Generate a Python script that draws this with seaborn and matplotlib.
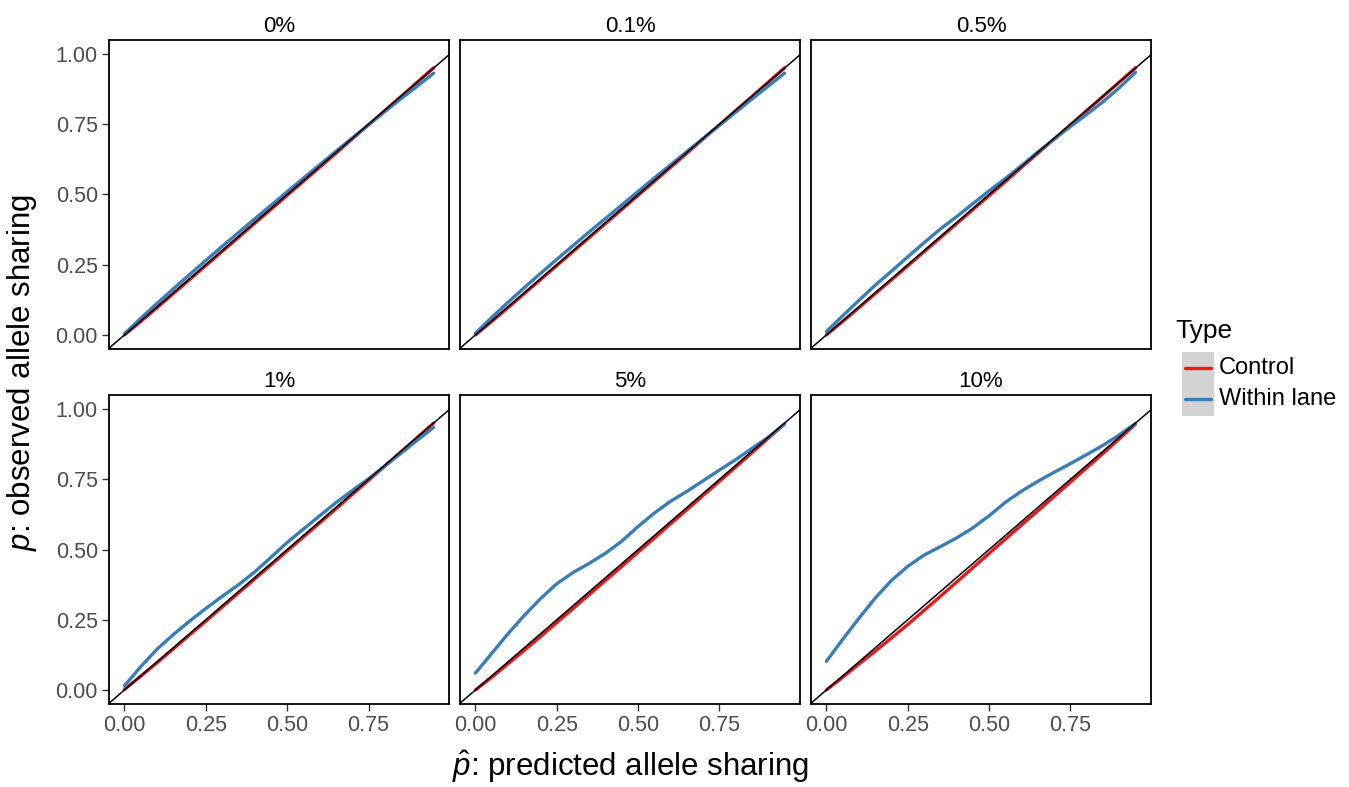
import numpy as np
import pandas as pd
import seaborn as sns
import matplotlib.pyplot as plt
from matplotlib.lines import Line2D
from matplotlib.patches import Rectangle

# predicted allele sharing (x) shared by every panel
predicted = [0.00, 0.05, 0.10, 0.15, 0.20, 0.25, 0.30, 0.35, 0.40, 0.45,
             0.50, 0.55, 0.60, 0.65, 0.70, 0.75, 0.80, 0.85, 0.90, 0.95]
panels = ['0%', '0.1%', '0.5%', '1%', '5%', '10%']
types = ['Control', 'Within lane']

control_0 = [0.000, 0.048, 0.097, 0.147, 0.197, 0.247, 0.297, 0.347, 0.397, 0.447,
             0.497, 0.547, 0.597, 0.647, 0.698, 0.748, 0.799, 0.849, 0.900, 0.951]
within_0 = [0.004, 0.059, 0.112, 0.164, 0.215, 0.265, 0.315, 0.364, 0.413, 0.461,
            0.510, 0.558, 0.606, 0.654, 0.701, 0.748, 0.795, 0.841, 0.886, 0.932]
control_01 = [0.000, 0.048, 0.097, 0.147, 0.197, 0.247, 0.297, 0.347, 0.397, 0.447,
              0.497, 0.547, 0.597, 0.647, 0.698, 0.748, 0.799, 0.849, 0.900, 0.951]
within_01 = [0.006, 0.062, 0.116, 0.168, 0.219, 0.269, 0.318, 0.367, 0.415, 0.463,
             0.511, 0.559, 0.606, 0.653, 0.700, 0.746, 0.793, 0.840, 0.886, 0.932]
control_05 = [0.000, 0.048, 0.097, 0.147, 0.196, 0.246, 0.296, 0.346, 0.396, 0.446,
              0.496, 0.546, 0.597, 0.647, 0.698, 0.748, 0.799, 0.849, 0.900, 0.951]
within_05 = [0.012, 0.068, 0.123, 0.177, 0.227, 0.278, 0.328, 0.377, 0.421, 0.467,
             0.513, 0.557, 0.603, 0.652, 0.697, 0.742, 0.785, 0.830, 0.880, 0.935]
control_1 = [0.002, 0.049, 0.097, 0.146, 0.196, 0.245, 0.295, 0.345, 0.395, 0.445,
             0.495, 0.545, 0.595, 0.645, 0.696, 0.746, 0.797, 0.848, 0.899, 0.950]
within_1 = [0.015, 0.083, 0.145, 0.197, 0.245, 0.290, 0.333, 0.374, 0.420, 0.472,
            0.525, 0.573, 0.620, 0.667, 0.710, 0.752, 0.797, 0.843, 0.889, 0.935]
control_5 = [0.000, 0.045, 0.093, 0.141, 0.190, 0.240, 0.290, 0.340, 0.390, 0.440,
             0.491, 0.541, 0.592, 0.642, 0.693, 0.743, 0.794, 0.845, 0.896, 0.947]
within_5 = [0.060, 0.130, 0.200, 0.265, 0.325, 0.378, 0.418, 0.451, 0.487, 0.530,
            0.582, 0.630, 0.672, 0.707, 0.745, 0.783, 0.820, 0.860, 0.900, 0.947]
control_10 = [0.000, 0.045, 0.092, 0.138, 0.185, 0.233, 0.283, 0.333, 0.384, 0.435,
              0.486, 0.537, 0.588, 0.638, 0.689, 0.740, 0.791, 0.842, 0.894, 0.947]
within_10 = [0.102, 0.180, 0.255, 0.327, 0.390, 0.440, 0.480, 0.510, 0.541, 0.577,
             0.620, 0.668, 0.708, 0.743, 0.775, 0.806, 0.838, 0.871, 0.908, 0.949]

controls = [control_0, control_01, control_05, control_1, control_5, control_10]
withins = [within_0, within_01, within_05, within_1, within_5, within_10]

rows = []
for name, ctl, win in zip(panels, controls, withins):
    for t, vals in zip(types, [ctl, win]):
        for xv, yv in zip(predicted, vals):
            rows.append({'panel': name, 'Type': t, 'predicted': xv, 'observed': yv})
df = pd.DataFrame(rows)

colors = {'Control': '#E41A1C', 'Within lane': '#377EB8'}

sns.set_theme(style='white')
plt.rcParams['font.family'] = ['Liberation Sans', 'DejaVu Sans']
plt.rcParams['text.color'] = 'black'
plt.rcParams['mathtext.fontset'] = 'custom'
plt.rcParams['mathtext.rm'] = 'Liberation Sans'
plt.rcParams['mathtext.it'] = 'Liberation Sans:italic'

g = sns.FacetGrid(df, col='panel', col_wrap=3, col_order=panels, height=3.09,
                  aspect=1.1, sharex=True, sharey=True, despine=False, legend_out=False)
g.map_dataframe(sns.lineplot, x='predicted', y='observed', hue='Type',
                palette=colors, linewidth=2.4, errorbar=None)
g.set_titles('{col_name}', size=16, pad=6, color='black')
g.set_axis_labels('', '')

for i, ax in enumerate(g.axes.flat):
    ax.axline((0, 0), slope=1, color='black', linewidth=1.1, zorder=5)
    ax.set_xlim(-0.0475, 0.9975)
    ax.set_ylim(-0.05, 1.05)
    ax.set_xticks([0, 0.25, 0.5, 0.75])
    ax.set_yticks([0, 0.25, 0.5, 0.75, 1.0])
    ax.xaxis.set_major_formatter(plt.FormatStrFormatter('%.2f'))
    ax.yaxis.set_major_formatter(plt.FormatStrFormatter('%.2f'))
    ax.tick_params(direction='out', length=5, width=1, color='#333333',
                   labelsize=15.5, labelcolor='#4D4D4D', pad=3,
                   bottom=(i // 3 == 1), left=(i % 3 == 0))
    for sp in ax.spines.values():
        sp.set_color('black')
        sp.set_linewidth(1.3)
    if ax.get_legend() is not None:
        ax.get_legend().remove()

fig = g.figure
fig.set_size_inches(13.49, 7.87)
fig.subplots_adjust(left=109 / 1349, right=1151 / 1349, top=1 - 40 / 787,
                    bottom=1 - 704 / 787, wspace=0.032, hspace=0.149)

fig.text(0.0163, 0.527, r'$p$: observed allele sharing', rotation=90,
         ha='center', va='center', fontsize=22.5)
fig.text(0.467, 0.014, r'$\hat{p}$: predicted allele sharing',
         ha='center', va='baseline', fontsize=22.5)

# legend drawn by hand to get the grey key background
fig.text(1175 / 1349, 1 - 331 / 787, 'Type', ha='left', va='center', fontsize=19)
fig.patches.append(Rectangle((1182 / 1349, 1 - 416 / 787), 32 / 1349, 64 / 787,
                             transform=fig.transFigure, facecolor='#D3D3D3',
                             edgecolor='none', figure=fig))
for t, yy in zip(types, [368, 399]):
    fig.lines.append(Line2D([1185 / 1349, 1211 / 1349], [1 - yy / 787, 1 - yy / 787],
                            transform=fig.transFigure, color=colors[t], linewidth=2.4))
    fig.text(1219 / 1349, 1 - yy / 787, t, ha='left', va='center', fontsize=17)

fig.savefig('out.png', dpi=100)
